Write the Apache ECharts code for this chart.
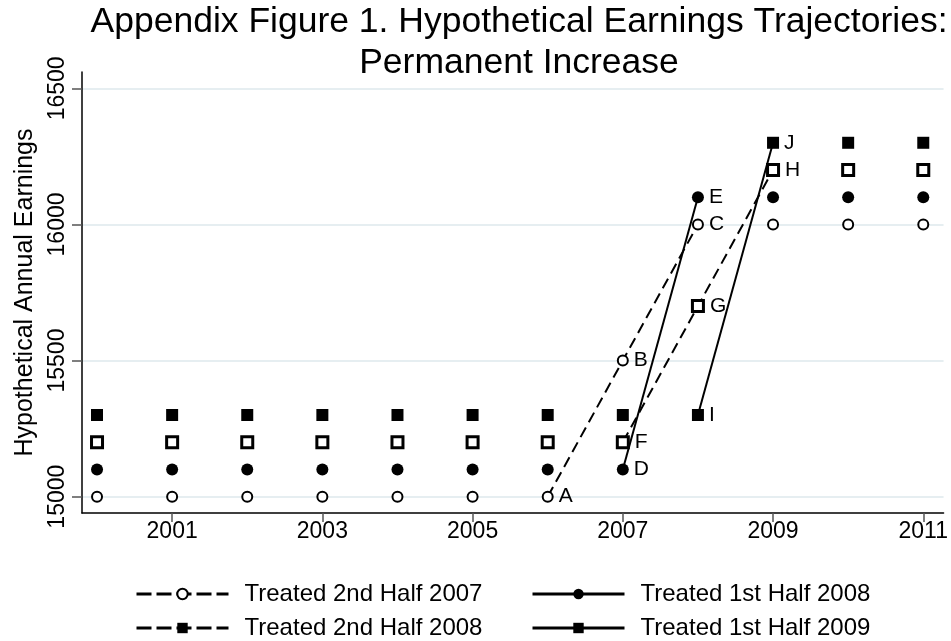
<!DOCTYPE html>
<html>
<head>
<meta charset="utf-8">
<script src="https://cdn.jsdelivr.net/npm/echarts@6/dist/echarts.min.js"></script>
<style>
  html, body { margin: 0; padding: 0; background: #fff; }
  #chart { width: 951px; height: 641px; }
</style>
</head>
<body>
<div id="chart"></div>
<script>
// years on the x axis
const years = [2000, 2001, 2002, 2003, 2004, 2005, 2006, 2007, 2008, 2009, 2010, 2011]
const xTicks = [2001, 2003, 2005, 2007, 2009, 2011]
const yTicks = [15000, 15500, 16000, 16500]

// earnings by group
const treated2007b = [15000, 15000, 15000, 15000, 15000, 15000, 15000, 15500, 16000, 16000, 16000, 16000]
const treated2008a = [15100, 15100, 15100, 15100, 15100, 15100, 15100, 15100, 16100, 16100, 16100, 16100]
const treated2008b = [15200, 15200, 15200, 15200, 15200, 15200, 15200, 15200, 15700, 16200, 16200, 16200]
const treated2009a = [15300, 15300, 15300, 15300, 15300, 15300, 15300, 15300, 15300, 16300, 16300, 16300]

// connected segment for each group: [first year, last year], with point letters
const seg2007b = [2006, 2008]
const seg2008a = [2007, 2008]
const seg2008b = [2007, 2009]
const seg2009a = [2008, 2009]
const letters2007b = ['A', 'B', 'C']
const letters2008a = ['D', 'E']
const letters2008b = ['F', 'G', 'H']
const letters2009a = ['I', 'J']

const FONT = "'Liberation Sans', Arial, sans-serif"

const hollow = { color: '#fff', borderColor: '#000', borderWidth: 2, opacity: 1 }
const hollowSq = { color: '#fff', borderColor: '#000', borderWidth: 3, opacity: 1 }
const filled = { color: '#000', borderColor: '#000', borderWidth: 0, opacity: 1 }

const groups = [
  { name: 'Treated 2nd Half 2007', vals: treated2007b, seg: seg2007b, letters: letters2007b,
    symbol: 'circle', size: 10, dashed: true, legendStyle: hollow, pointStyle: hollow },
  { name: 'Treated 1st Half 2008', vals: treated2008a, seg: seg2008a, letters: letters2008a,
    symbol: 'circle', size: 12, dashed: false, legendStyle: filled, pointStyle: filled },
  { name: 'Treated 2nd Half 2008', vals: treated2008b, seg: seg2008b, letters: letters2008b,
    symbol: 'rect', size: 11, dashed: true, legendStyle: filled, pointStyle: hollowSq },
  { name: 'Treated 1st Half 2009', vals: treated2009a, seg: seg2009a, letters: letters2009a,
    symbol: 'rect', size: 12, dashed: false, legendStyle: filled, pointStyle: filled }
]

const series = []
for (const g of groups) {
  const lineData = []
  const dots = []
  years.forEach((y, i) => {
    if (y >= g.seg[0] && y <= g.seg[1]) {
      lineData.push({
        value: [y, g.vals[i]],
        itemStyle: g.pointStyle,
        label: { show: true, formatter: g.letters[y - g.seg[0]] }
      })
    } else {
      dots.push([y, g.vals[i]])
    }
  })
  series.push({
    type: 'scatter',
    name: g.name + ' pts',
    data: dots,
    symbol: g.symbol,
    symbolSize: g.size,
    itemStyle: g.pointStyle,
    silent: true
  })
  series.push({
    type: 'line',
    name: g.name,
    data: lineData,
    symbol: g.symbol,
    symbolSize: g.size,
    showAllSymbol: true,
    itemStyle: g.legendStyle,
    lineStyle: { color: '#000', width: 2, type: g.dashed ? [11, 6] : 'solid' },
    label: {
      position: 'right',
      distance: 5,
      fontFamily: FONT,
      fontSize: 21,
      color: '#000'
    },
    z: 3
  })
}

function legendItem (g) {
  return {
    name: g.name,
    itemStyle: g.legendStyle,
    lineStyle: { color: '#000', width: 3, type: g.dashed ? [15, 5] : 'solid' }
  }
}

const legendText = { fontFamily: FONT, fontSize: 24, lineHeight: 26, color: '#000', padding: [0, 0, 0, 11] }

const chart = echarts.init(document.getElementById('chart'), null, { renderer: 'canvas' })
chart.setOption({
  backgroundColor: '#fff',
  animation: false,
  title: {
    text: 'Appendix Figure 1. Hypothetical Earnings Trajectories:\nPermanent Increase',
    left: 514,
    textAlign: 'center',
    top: -3,
    textStyle: {
      fontFamily: FONT,
      fontWeight: 'normal',
      fontSize: 35.5,
      lineHeight: 41,
      color: '#000'
    }
  },
  grid: { left: 82, right: 5, top: 72, bottom: 128 },
  xAxis: {
    type: 'value',
    min: 1999.8,
    max: 2011.27,
    axisLine: { show: true, lineStyle: { color: '#000', width: 1.5 } },
    axisTick: { show: true, length: 9, customValues: xTicks, lineStyle: { color: '#555', width: 1.5 } },
    axisLabel: {
      customValues: xTicks,
      fontFamily: FONT,
      fontSize: 23,
      color: '#000',
      margin: 7,
      formatter: v => String(v)
    },
    splitLine: { show: false }
  },
  yAxis: {
    type: 'value',
    min: 14940,
    max: 16560,
    name: 'Hypothetical Annual Earnings',
    nameLocation: 'middle',
    nameGap: 41,
    nameTextStyle: { fontFamily: FONT, fontSize: 25, color: '#000' },
    axisLine: { show: true, lineStyle: { color: '#000', width: 1.5 } },
    axisTick: { show: true, length: 10, customValues: yTicks, lineStyle: { color: '#555', width: 1.5 } },
    axisLabel: {
      customValues: yTicks,
      rotate: 90,
      fontFamily: FONT,
      fontSize: 23,
      color: '#000',
      margin: 13,
      formatter: v => String(v)
    },
    splitLine: { show: true, lineStyle: { color: '#e6eef1', width: 2 } }
  },
  legend: [
    {
      orient: 'vertical',
      left: 135,
      top: 581,
      height: 80,
      padding: 0,
      itemWidth: 92,
      itemHeight: 13,
      itemGap: 8,
      data: [legendItem(groups[0]), legendItem(groups[2])],
      textStyle: legendText,
      selectedMode: false
    },
    {
      orient: 'vertical',
      left: 531,
      top: 581,
      height: 80,
      padding: 0,
      itemWidth: 92,
      itemHeight: 13,
      itemGap: 8,
      data: [legendItem(groups[1]), legendItem(groups[3])],
      textStyle: legendText,
      selectedMode: false
    }
  ],
  series: series
})
</script>
</body>
</html>
